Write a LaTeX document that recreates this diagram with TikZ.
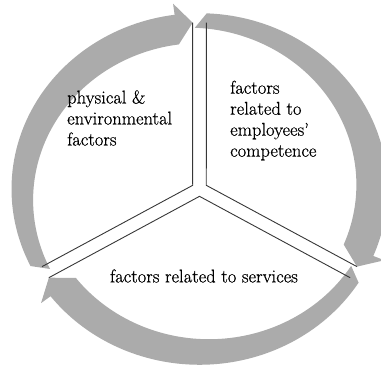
\documentclass[tikz,border=0pt]{standalone}
\usepackage{fontspec}
\usepackage{tikz}
\usetikzlibrary{positioning}
\usepackage{xcolor}

\newfontfamily\factorfont{Latin Modern Roman}[Ligatures=TeX, FakeBold=0.6]
\definecolor{ringgray}{RGB}{171,171,171}
\definecolor{linegray}{RGB}{55,55,55}

\begin{document}
\begin{tikzpicture}[x=1pt, y=1pt,
    factortext/.style={align=left, inner sep=0pt, font=\factorfont\fontsize{18.5}{21}\selectfont},
    divider/.style={draw=linegray, line width=0.9pt}]

      \useasboundingbox (-199.5, -180) rectangle (181.5, 189);

      \begin{scope}[yscale=0.935]
        % ring arrows, clockwise
        \foreach \s/\e in {206/92.2, 87.8/-27.8, -32.2/-147.8}{
          \pgfmathsetmacro{\h}{\e+5.4}
          \fill[ringgray] (\s:188) arc[start angle=\s, end angle=\h, radius=188]
            -- (\h:200) -- (\e:178) -- (\h:156)
            arc[start angle=\h, end angle=\s, radius=168] -- cycle;
        }

        % the three sectors
        \foreach \c/\n in {150/ul, 30/ur, 270/lo}{
          \coordinate (apex-\n) at (\c:7.85);
          \coordinate (left-\n) at ({\c+57.8}:178);
          \coordinate (right-\n) at ({\c-57.8}:178);
          \draw[divider] (left-\n) -- (apex-\n) -- (right-\n);
        }
      \end{scope}

      \node[factortext, anchor=west] (physical) at (-132.5, 71) {physical \&\\environmental\\factors};
      \node[factortext, anchor=west] (competence) at (30.5, 68.5) {factors\\related to\\employees'\\competence};
      \node[factortext] (services) at (4.5, -87) {factors related to services};

    \end{tikzpicture}
\end{document}
